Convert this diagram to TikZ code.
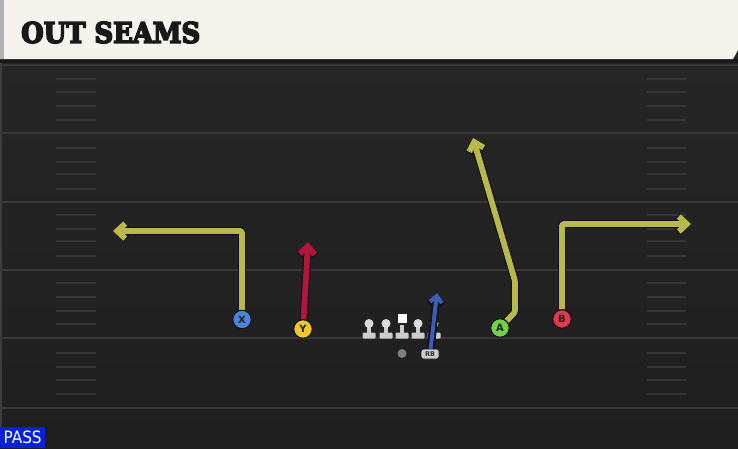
\documentclass[tikz,border=0pt]{standalone}
\usepackage{fontspec}
\setmainfont{DejaVu Sans}
\newfontfamily\titlefont[FakeBold=6]{DejaVu Serif Bold}
\newfontfamily\condfont{DejaVu Sans Condensed}
\usetikzlibrary{arrows.meta}
\pgfdeclarelayer{fieldlayer}
\pgfdeclarelayer{routelayer}
\pgfsetlayers{fieldlayer,routelayer,main}
\definecolor{fieldtop}{HTML}{272727}
\definecolor{fieldbot}{HTML}{1F1F1F}
\definecolor{cream}{HTML}{F5F3EC}
\definecolor{yardline}{HTML}{383838}
\definecolor{hashc}{HTML}{363636}
\definecolor{olive}{HTML}{B9B84B}
\definecolor{crimson}{HTML}{B2163B}
\definecolor{rbblue}{HTML}{3A5EB6}
\definecolor{outline}{HTML}{12121E}
\definecolor{pblue}{HTML}{4A85D6}
\definecolor{pyellow}{HTML}{F2C42E}
\definecolor{pgreen}{HTML}{70D14A}
\definecolor{pred}{HTML}{E0394B}
\definecolor{lineman}{HTML}{CDCDCD}
\definecolor{passblue}{HTML}{0B22D4}
\tikzset{
  player/.style={circle, draw=outline, line width=1pt, minimum size=18.5pt, inner sep=0pt,
    font=\fontsize{10}{10}\selectfont\bfseries, text=black!85},
  route/.style={line width=5.8pt, rounded corners=1.5pt, line join=round,
    -{Straight Barb[length=8pt,width=15pt]},
    preaction={draw=outline, line width=8pt}},
  yardstyle/.style={draw=yardline, line width=2pt},
  hashstyle/.style={draw=hashc, line width=1.6pt},
  lmstyle/.style={fill=lineman},
}
\begin{document}
\begin{tikzpicture}[x=1pt,y=-1pt]
\useasboundingbox (0,0) rectangle (738,448);
\begin{pgfonlayer}{fieldlayer}
  \fill[top color=fieldtop, bottom color=fieldbot] (0,0) rectangle (738,448);
  \fill[fieldtop!90!white] (0,59) rectangle (2,448);
  % yard lines
  \foreach \y in {65,133,202,270,338,408}
    \draw[yardstyle] (0,\y) -- (738,\y);
  % hash marks
  \foreach \y in {79,92,106,120,148,162,174,189,215,229,241,256,283,297,311,324,353,367,380,394} {
    \draw[hashstyle] (56,\y) -- (96,\y);
    \draw[hashstyle] (647,\y) -- (686,\y);
  }
  % header
  \fill[black!90] (0,59) rectangle (738,63);
  \fill[cream] (0,0) -- (738,0) -- (738,50) -- (733,59) -- (0,59) -- cycle;
  \fill[black!30] (0,0) rectangle (4,59);
\end{pgfonlayer}
\node[anchor=west, inner sep=0pt, text=black!90, font=\titlefont] (title) at (21,32.5)
  {\resizebox{179pt}{21pt}{OUT SEAMS}};
\node[fill=passblue, text=white, anchor=south west, inner sep=0pt, minimum width=45pt,
  minimum height=21pt, font=\condfont\fontsize{17}{17}\selectfont] (pass) at (0,448) {PASS};
% linemen
\foreach \x in {369,386,402,418,434} {
  \fill[lmstyle] (\x-2,325) rectangle (\x+2,334);
  \fill[lmstyle, rounded corners=1pt] (\x-6.5,332.5) rectangle (\x+6.5,338.5);
}
\foreach \x in {369,386,418,434}
  \fill[lineman!75!white] (\x,323.5) circle (4.5pt);
\fill[white] (397.5,313.5) rectangle (406.5,323);
% QB
\fill[black!50] (402,353.5) circle (4.5pt);
% players
\node[player, fill=pblue] (X) at (242,319.5) {X};
\node[player, fill=pyellow] (Y) at (303,329) {Y};
\node[player, fill=pgreen] (A) at (500,328) {A};
\node[player, fill=pred] (B) at (562,319) {B};
\node[draw=outline, line width=0.6pt, fill=lineman, rounded corners=2.5pt, minimum width=18pt, minimum height=10pt,
  inner sep=0pt, font=\fontsize{6.5}{6.5}\selectfont\bfseries, text=black!80] (RB) at (430,354) {RB};
% route coordinates
\coordinate (xc) at (242,231);
\coordinate (xt) at (113,231);
\coordinate (yt) at (308,242);
\coordinate (rbt) at (437,293);
\coordinate (a1) at (515,312);
\coordinate (a2) at (515,281);
\coordinate (at) at (473,138);
\coordinate (bc) at (562,224);
\coordinate (bt) at (691,224);
\begin{pgfonlayer}{routelayer}
  \draw[route, olive] (X) -- (xc) -- (xt);
  \draw[route, crimson] (Y) -- (yt);
  \draw[route, olive] (A) -- (a1) -- (a2) -- (at);
  \draw[route, olive] (B) -- (bc) -- (bt);
\end{pgfonlayer}
\draw[route, rbblue, line width=4pt, -{Straight Barb[length=6.5pt,width=12pt]},
  preaction={draw=outline, line width=5.8pt}] (RB) -- (rbt);
\end{tikzpicture}
\end{document}
